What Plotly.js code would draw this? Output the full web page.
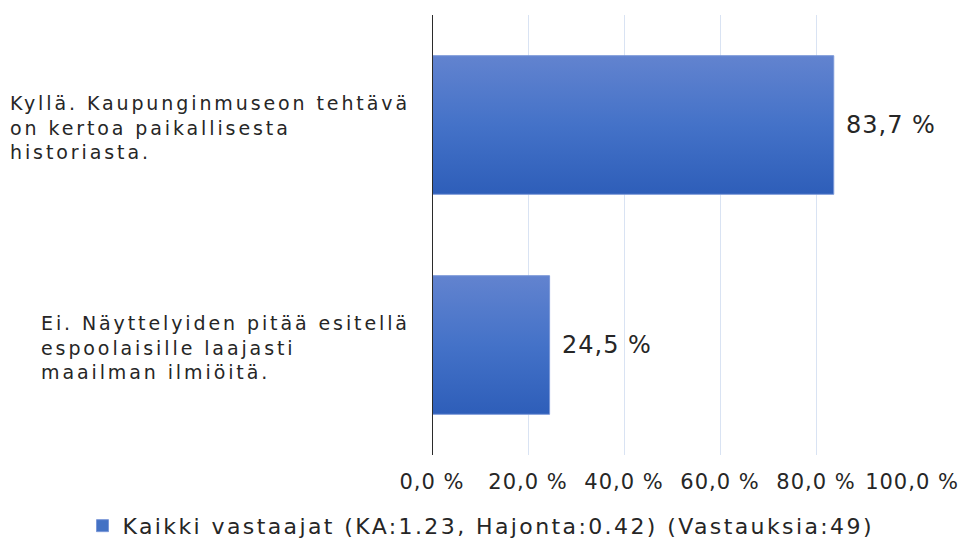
<!DOCTYPE html>
<html>
<head>
<meta charset="utf-8">
<script src="https://cdn.plot.ly/plotly-3.0.1.min.js"></script>
<style>
html, body { margin: 0; padding: 0; background: #fff; }
#chart { width: 962px; height: 541px; }
text[style*="font-size: 19px"] { letter-spacing: 2.9px; }
text[style*="font-size: 21px"] { letter-spacing: 1px; }
text[style*="font-size: 22px"] { letter-spacing: 2.4px; }
text[style*="font-size: 24px"] { letter-spacing: 1px; }
</style>
</head>
<body>
<div id="chart"></div>
<script>
// ---- data ----
const categories = [
  "Kyllä. Kaupunginmuseon tehtävä<br>on kertoa paikallisesta<br>historiasta.",
  "Ei. Näyttelyiden pitää esitellä<br>espoolaisille laajasti<br>maailman ilmiöitä."
];
const values = [83.7, 24.5];
const seriesName = "Kaikki vastaajat (KA:1.23, Hajonta:0.42) (Vastauksia:49)";
const tickValues = [0, 20, 40, 60, 80, 100];
const tickLabels = ["0,0 %", "20,0 %", "40,0 %", "60,0 %", "80,0 %", "100,0 %"];

// ---- helpers ----
function fmt(v) { return v.toFixed(1).replace('.', ',') + ' %'; }

const FONT = 'DejaVu Sans, Arial, sans-serif';
const TXT = '#262626';

const trace = {
  type: 'bar',
  orientation: 'h',
  x: values,
  y: categories,
  name: seriesName,
  width: 0.63,
  marker: { color: '#4472c4', line: { color: '#7b98d8', width: 1 } },
  hoverinfo: 'x+y',
  showlegend: true
};

const annotations = [];
categories.forEach(function (c) {
  annotations.push({
    xref: 'paper', x: 0, xanchor: 'right', xshift: -20,
    yref: 'y', y: c, yanchor: 'middle', yshift: -2,
    text: c, align: 'left', showarrow: false,
    font: { family: FONT, size: 19, color: TXT }
  });
});
values.forEach(function (v, i) {
  annotations.push({
    xref: 'x', x: v, xanchor: 'left', xshift: 10,
    yref: 'y', y: categories[i], yanchor: 'middle', yshift: 0,
    text: fmt(v), showarrow: false,
    font: { family: FONT, size: 24, color: TXT }
  });
});

const layout = {
  width: 962, height: 541,
  margin: { l: 432, r: 50, t: 15, b: 86, autoexpand: false },
  paper_bgcolor: '#ffffff', plot_bgcolor: '#ffffff',
  font: { family: FONT, color: TXT },
  bargap: 0.37,
  xaxis: {
    range: [0, 100],
    tickvals: tickValues, ticktext: tickLabels,
    showgrid: true, gridcolor: '#d9e3f3', gridwidth: 1,
    zeroline: false, showline: false, ticks: '',
    ticklabelstandoff: 12,
    tickfont: { family: FONT, size: 21, color: TXT },
    fixedrange: true
  },
  yaxis: {
    categoryorder: 'array', categoryarray: categories,
    autorange: 'reversed',
    showticklabels: false, showgrid: false, zeroline: false,
    showline: false, ticks: '', fixedrange: true
  },
  shapes: [{
    type: 'line', layer: 'above', xref: 'x', x0: 0, x1: 0, yref: 'paper', y0: 0, y1: 1,
    line: { color: '#2b2b2b', width: 2 }
  }],
  annotations: annotations,
  showlegend: true,
  legend: {
    orientation: 'h',
    xref: 'container', x: 0.5, xanchor: 'center',
    yref: 'container', y: 0.028, yanchor: 'middle',
    font: { family: FONT, size: 22, color: TXT },
    itemwidth: 30
  }
};

Plotly.newPlot('chart', [trace], layout, { displayModeBar: false, staticPlot: true }).then(function (gd) {
  // vertical gradient fill on the bars drawn by Plotly
  const NS = 'http://www.w3.org/2000/svg';
  const svg = gd.querySelector('.main-svg');
  let defs = svg.querySelector('defs');
  if (!defs) { defs = document.createElementNS(NS, 'defs'); svg.insertBefore(defs, svg.firstChild); }
  const grad = document.createElementNS(NS, 'linearGradient');
  grad.setAttribute('id', 'barGrad');
  grad.setAttribute('x1', '0'); grad.setAttribute('y1', '0');
  grad.setAttribute('x2', '0'); grad.setAttribute('y2', '1');
  [['0', '#6283cf'], ['0.5', '#4472c8'], ['1', '#2e5eb9']].forEach(function (s) {
    const st = document.createElementNS(NS, 'stop');
    st.setAttribute('offset', s[0]);
    st.setAttribute('stop-color', s[1]);
    grad.appendChild(st);
  });
  defs.appendChild(grad);
  gd.querySelectorAll('.barlayer .point path').forEach(function (p) {
    p.style.fill = 'url(#barGrad)';
  });
});
</script>
</body>
</html>
